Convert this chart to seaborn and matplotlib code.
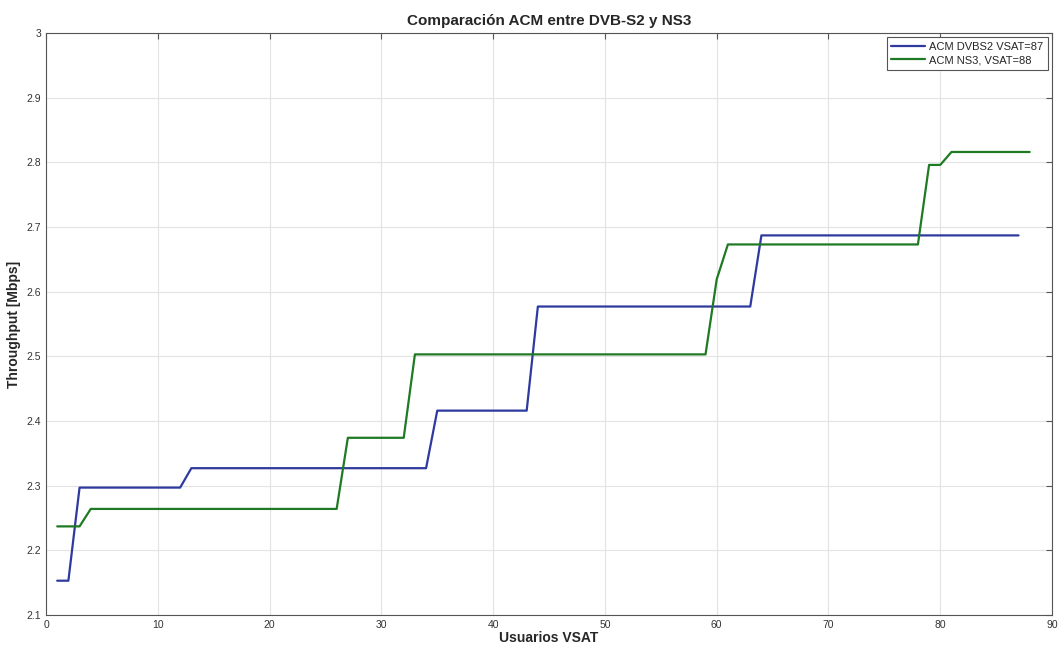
import pandas as pd
import numpy as np
import matplotlib
matplotlib.use("Agg")
import matplotlib.pyplot as plt
import seaborn as sns

# Corner points of the step curves
blue_x = [1, 2, 3, 12, 13, 34, 35, 43, 44, 63, 64, 87]
blue_y = [2.153, 2.153, 2.297, 2.297, 2.327, 2.327, 2.416, 2.416,
          2.577, 2.577, 2.687, 2.687]
green_x = [1, 3, 4, 26, 27, 32, 33, 59, 60, 61, 78, 79, 80, 81, 88]
green_y = [2.237, 2.237, 2.264, 2.264, 2.374, 2.374, 2.503, 2.503,
           2.619, 2.673, 2.673, 2.796, 2.796, 2.816, 2.816]
series_names = ["ACM DVBS2 VSAT=87", "ACM NS3, VSAT=88"]
x_ticks = [0, 10, 20, 30, 40, 50, 60, 70, 80, 90]
y_ticks = [2.1, 2.2, 2.3, 2.4, 2.5, 2.6, 2.7, 2.8, 2.9, 3.0]

df = pd.concat([
    pd.DataFrame({"x": blue_x, "y": blue_y, "serie": series_names[0]}),
    pd.DataFrame({"x": green_x, "y": green_y, "serie": series_names[1]}),
])

sns.set_style("white")
plt.rcParams['font.family'] = ['Liberation Sans', 'DejaVu Sans']

fig = plt.figure(figsize=(10.63, 6.47), dpi=100)
ax = fig.add_axes([0.0433, 0.0495, 0.9464, 0.8995])

sns.lineplot(data=df, x="x", y="y", hue="serie", sort=False, estimator=None,
             palette=["#2e3a9e", "#1f7a24"], linewidth=1.6, ax=ax)

ax.set_xlim(0, 90)
ax.set_ylim(2.1, 3.0)
ax.set_xticks(x_ticks)
ax.set_yticks(y_ticks)
ax.set_yticklabels([f"{v:g}" for v in y_ticks])
ax.grid(True, color="#e3e3e3", linewidth=0.8)
ax.tick_params(direction="in", top=True, right=True, labelsize=7.5,
               length=4, color="#555555", labelcolor="#333333")
for s in ax.spines.values():
    s.set_color("#555555")
    s.set_linewidth(0.8)

ax.set_title("Comparación ACM entre DVB-S2 y NS3", fontsize=11, fontweight="bold", pad=6)
ax.set_xlabel("Usuarios VSAT", fontsize=10, fontweight="bold", labelpad=1)
ax.set_ylabel("Throughput [Mbps]", fontsize=10, fontweight="bold", labelpad=4)

leg = ax.legend(loc="upper right", fontsize=8, fancybox=False, framealpha=1,
                edgecolor="#555555", handlelength=3.0, borderaxespad=0.4,
                handletextpad=0.4, labelspacing=0.3)
leg.get_frame().set_linewidth(0.8)

fig.savefig("out.png", dpi=100)
